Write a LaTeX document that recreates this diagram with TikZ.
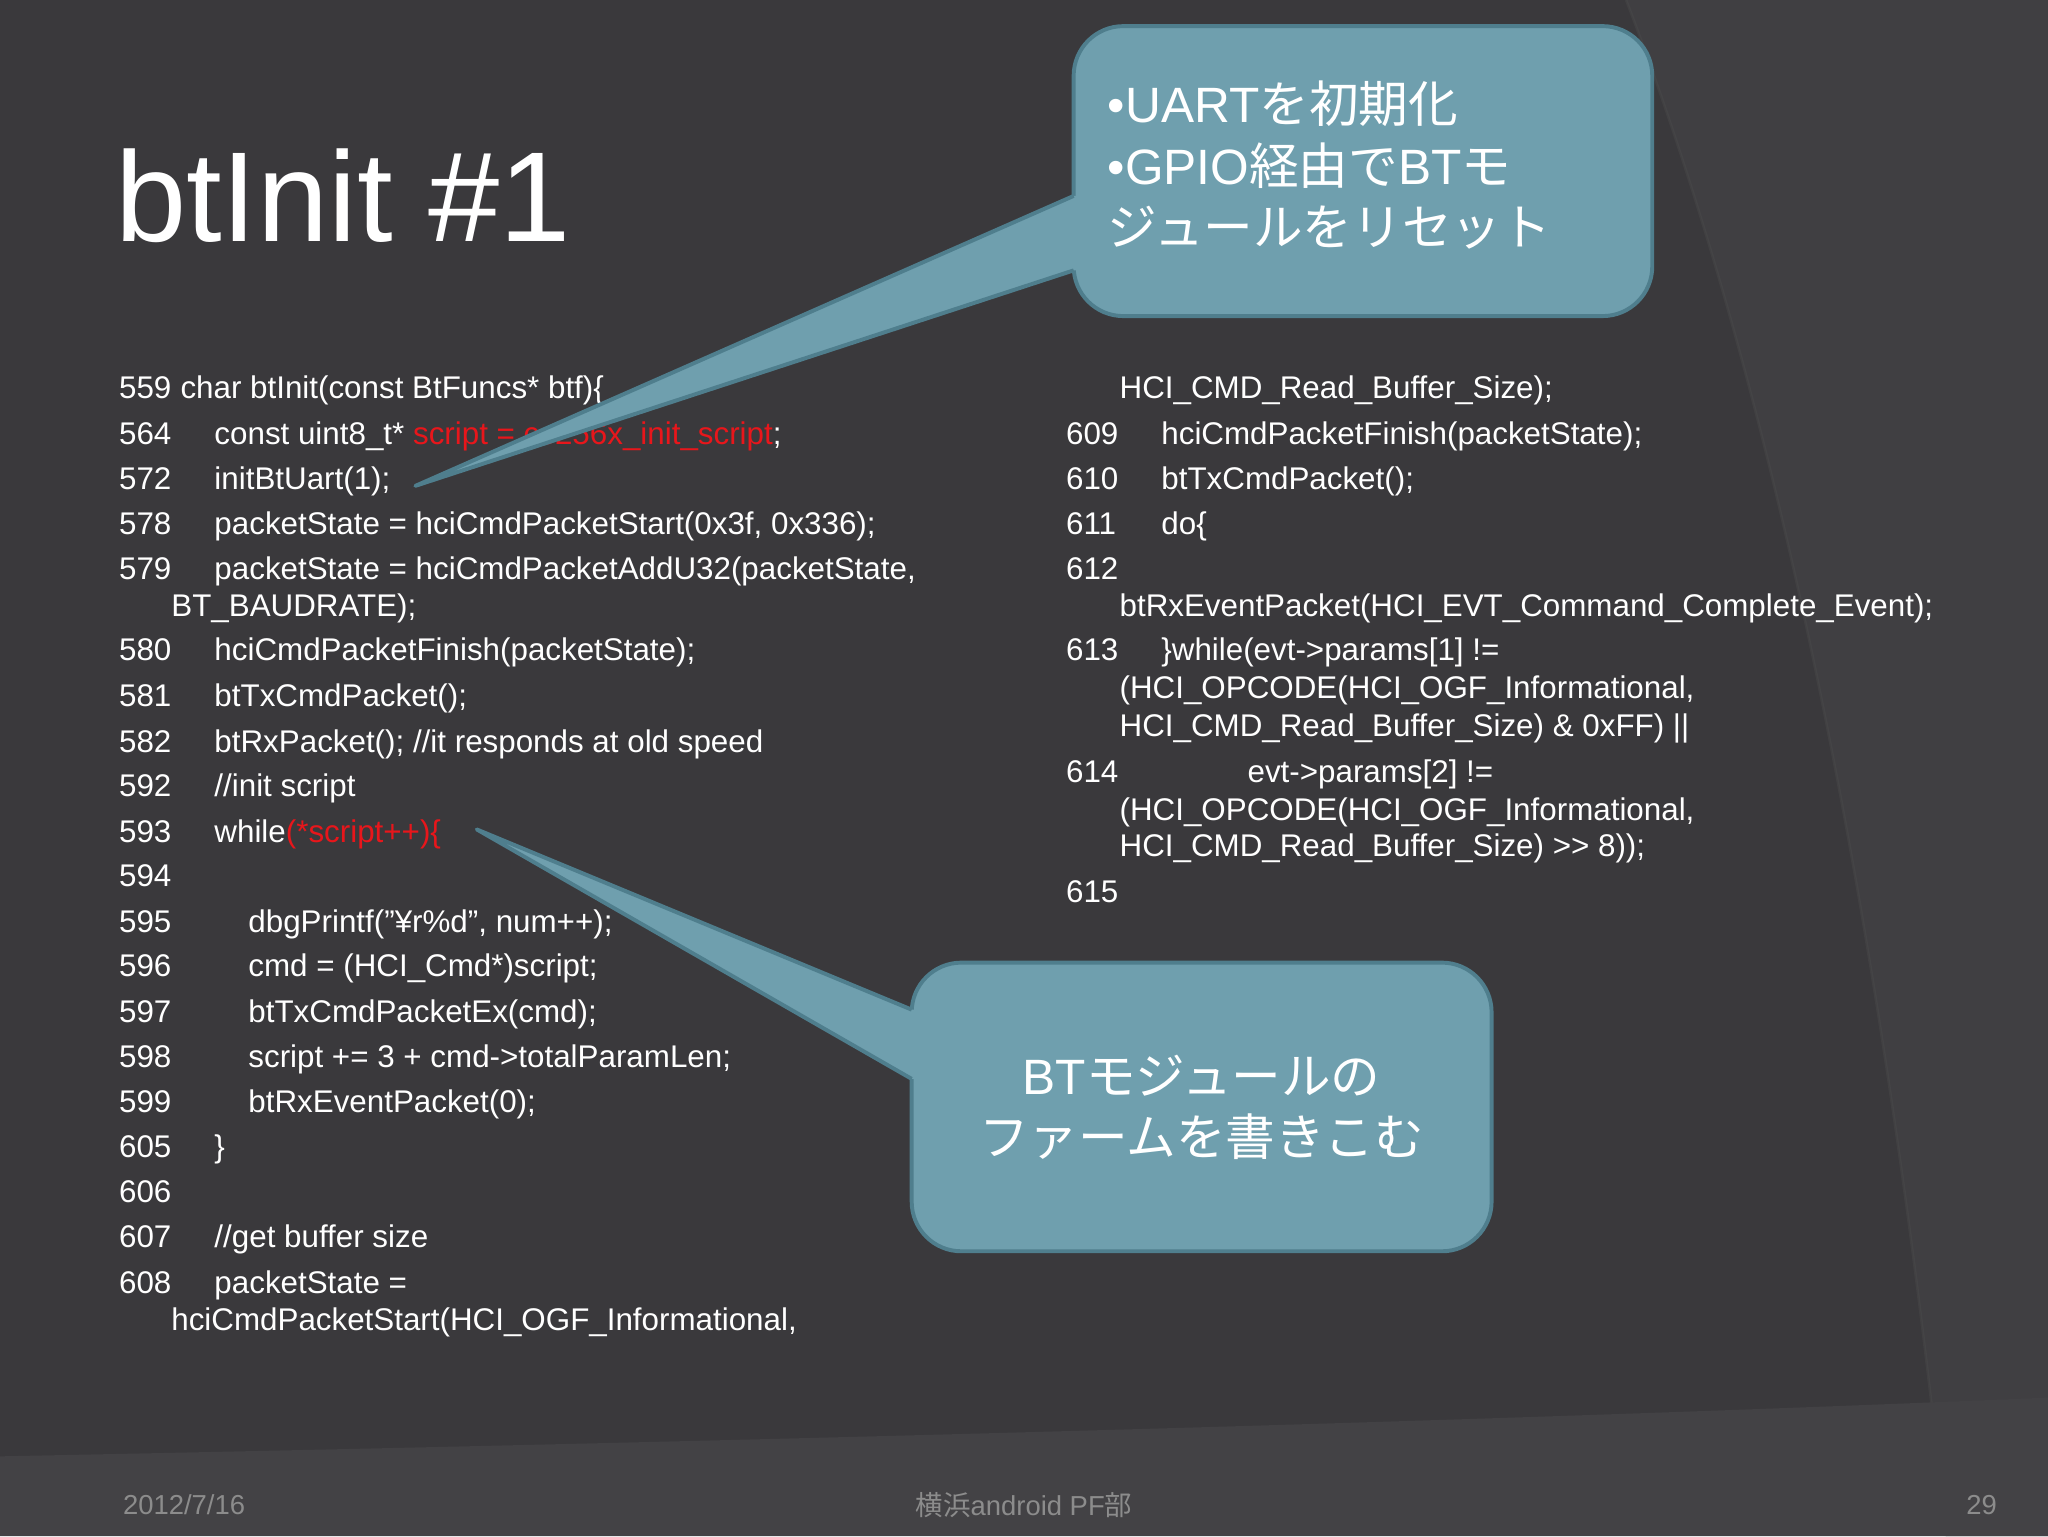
\documentclass[tikz,border=0pt]{standalone}
\usepackage{fontspec}
\setmainfont{Liberation Sans}
\newfontfamily\cjk{Noto Sans CJK JP}
\definecolor{bg}{HTML}{3A393C}
\definecolor{bgr}{HTML}{403F42}
\definecolor{bgb}{HTML}{434245}
\definecolor{callfill}{HTML}{6F9FAE}
\definecolor{calledge}{HTML}{4F7E8D}
\definecolor{codered}{HTML}{E8161B}
\definecolor{foot}{HTML}{8C8C8C}
\tikzset{
  code/.style={anchor=base west,inner sep=0,text=white,font=\fontsize{24}{28}\selectfont},
  callout/.style={fill=callfill,draw=calledge,line width=3},
  calltext/.style={text=white,font=\fontsize{38}{47}\selectfont,inner sep=0},
  foottext/.style={text=foot,font=\fontsize{21}{24}\selectfont,inner sep=0}
}
\begin{document}
\begin{tikzpicture}[x=1pt,y=-1pt]
\useasboundingbox (0,0) rectangle (1568,1176);
\fill[bg] (0,0) rectangle (1568,1176);
\fill[bgr] (1245,0) .. controls (1360,300) and (1440,700) .. (1490,1176) -- (1568,1176) -- (1568,0) -- cycle;
\draw[black!70,line width=2,opacity=0.4] (1245,0) .. controls (1360,300) and (1440,700) .. (1490,1176);
\fill[bgb] (0,1115) .. controls (500,1105) and (1100,1090) .. (1568,1070) -- (1568,1176) -- (0,1176) -- cycle;

\node[anchor=base west,inner sep=0,text=white,font=\fontsize{98}{100}\selectfont] (title) at (88,185) {btInit \#1};

% left column
\foreach \n/\y in {559/305,564/340,572/375,578/409,579/444,580/506,581/541,582/576,592/610,593/645,594/679,595/714,596/748,597/783,598/817,599/852,605/886,606/921,607/955,608/990}
  \node[code] (n\n) at (91,\y) {\n};
\node[code] (c559) at (138,305) {char btInit(const BtFuncs* btf)\{};
\node[code] (c564) at (164,340) {const uint8\_t* \textcolor{codered}{script = cc256x\_init\_script};};
\node[code] (c572) at (164,375) {initBtUart(1);};
\node[code] (c578) at (164,409) {packetState = hciCmdPacketStart(0x3f, 0x336);};
\node[code] (c579) at (164,444) {packetState = hciCmdPacketAddU32(packetState,};
\node[code] (c579b) at (131,472) {BT\_BAUDRATE);};
\node[code] (c580) at (164,506) {hciCmdPacketFinish(packetState);};
\node[code] (c581) at (164,541) {btTxCmdPacket();};
\node[code] (c582) at (164,576) {btRxPacket(); //it responds at old speed};
\node[code] (c592) at (164,610) {//init script};
\node[code] (c593) at (164,645) {while\textcolor{codered}{(*script++)\{}};
\node[code] (c595) at (190,714) {dbgPrintf(\char34¥r\%d\char34, num++);};
\node[code] (c596) at (190,748) {cmd = (HCI\_Cmd*)script;};
\node[code] (c597) at (190,783) {btTxCmdPacketEx(cmd);};
\node[code] (c598) at (190,817) {script += 3 + cmd->totalParamLen;};
\node[code] (c599) at (190,852) {btRxEventPacket(0);};
\node[code] (c605) at (164,886) {\}};
\node[code] (c607) at (164,955) {//get buffer size};
\node[code] (c608) at (164,990) {packetState =};
\node[code] (c608b) at (131,1019) {hciCmdPacketStart(HCI\_OGF\_Informational,};

% right column
\node[code] (r0) at (857,305) {HCI\_CMD\_Read\_Buffer\_Size);};
\foreach \n/\y in {609/340,610/375,611/409,612/444,613/506,614/599,615/691}
  \node[code] (n\n) at (816,\y) {\n};
\node[code] (c609) at (889,340) {hciCmdPacketFinish(packetState);};
\node[code] (c610) at (889,375) {btTxCmdPacket();};
\node[code] (c611) at (889,409) {do\{};
\node[code] (c612) at (857,472) {btRxEventPacket(HCI\_EVT\_Command\_Complete\_Event);};
\node[code] (c613) at (889,506) {\}while(evt->params[1] !=};
\node[code] (c613b) at (857,535) {(HCI\_OPCODE(HCI\_OGF\_Informational,};
\node[code] (c613c) at (857,564) {HCI\_CMD\_Read\_Buffer\_Size) \& 0xFF) ||};
\node[code] (c614) at (955,599) {evt->params[2] !=};
\node[code] (c614b) at (857,628) {(HCI\_OPCODE(HCI\_OGF\_Informational,};
\node[code] (c614c) at (857,656) {HCI\_CMD\_Read\_Buffer\_Size) {>}{>} 8));};

% callout 1
\coordinate (tip1) at (318,372);
\coordinate (b1a) at (822,150);
\coordinate (b1b) at (822,207);
\draw[callout,rounded corners=38] (822,20) rectangle (1265,242);
\fill[callfill] (830,150) -- (b1a) -- (tip1) -- (b1b) -- (830,207) -- cycle;
\draw[calledge,line width=3,line join=round] (b1a) -- (tip1) -- (b1b);
\node[calltext,anchor=north west,align=left] (t1) at (848,62) {•UART{\cjk を初期化}\\•GPIO{\cjk 経由で}BT{\cjk モ}\\{\cjk ジュールをリセット}};

% callout 2
\coordinate (tip2) at (365,635);
\coordinate (b2a) at (698,773);
\coordinate (b2b) at (698,826);
\draw[callout,rounded corners=38] (698,737) rectangle (1142,958);
\fill[callfill] (706,773) -- (b2a) -- (tip2) -- (b2b) -- (706,826) -- cycle;
\draw[calledge,line width=3,line join=round] (b2a) -- (tip2) -- (b2b);
\node[calltext,align=center] (t2) at (920,848) {BT{\cjk モジュールの}\\{\cjk ファームを書きこむ}};

% footer
\node[foottext,anchor=west] (date) at (94,1152) {2012/7/16};
\node[foottext] (org) at (784,1152) {{\cjk 横浜}android PF{\cjk 部}};
\node[foottext,anchor=east] (page) at (1529,1152) {29};
\end{tikzpicture}
\end{document}
